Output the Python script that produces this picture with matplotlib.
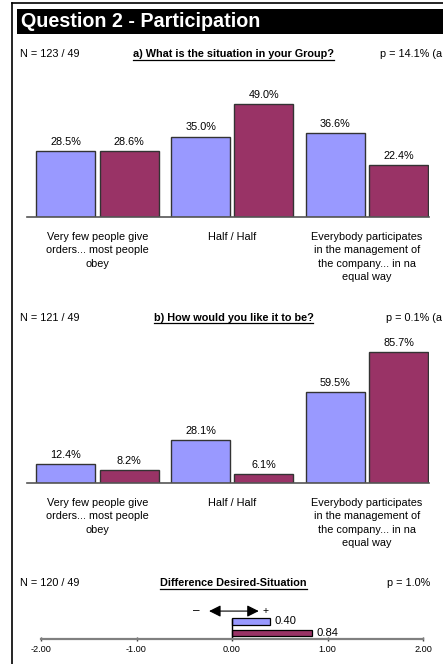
import matplotlib
matplotlib.use("Agg")
import matplotlib.pyplot as plt
from matplotlib.lines import Line2D
from matplotlib.patches import Rectangle

plt.rcParams['font.family'] = ['Liberation Sans', 'DejaVu Sans']

# ---- data ----
categories = ["Very few people give\norders... most people\nobey",
              "Half / Half",
              "Everybody participates\nin the management of\nthe company... in na\nequal way"]
situation_a = [28.5, 35.0, 36.6]
situation_b = [28.6, 49.0, 22.4]
desired_a = [12.4, 28.1, 59.5]
desired_b = [8.2, 6.1, 85.7]
diff_values = [0.40, 0.84]
diff_ticks = [-2.0, -1.0, 0.0, 1.0, 2.0]

title = "Question 2 - Participation"
sub_a = "a) What is the situation in your Group?"
sub_b = "b) How would you like it to be?"
sub_c = "Difference Desired-Situation"
n_texts = ["N = 123 / 49", "N = 121 / 49", "N = 120 / 49"]
p_texts = ["p = 14.1% (a", "p = 0.1% (a", "p = 1.0%"]

BLUE = "#9999FF"
PURPLE = "#993366"
EDGE = "#333333"

W, H = 443, 664
fig = plt.figure(figsize=(W / 100, H / 100), dpi=100)


def fx(px):
    return px / W


def fy(py):
    return 1 - py / H


# frame lines
fig.add_artist(Line2D([fx(12), fx(12)], [fy(3), fy(664)], color="black", lw=1.2))
fig.add_artist(Line2D([fx(12), fx(443)], [fy(3), fy(3)], color="black", lw=1.2))
# title bar
fig.add_artist(Rectangle((fx(17), fy(34)), fx(443) - fx(17), fy(9) - fy(34),
                         facecolor="black", edgecolor="none"))
fig.text(fx(21), fy(21.5), title, color="white", fontsize=14.2, fontweight="bold",
         va="center", ha="left")

underline_texts = []


def header(y, ntext, sub, ptext, px):
    fig.text(fx(20), fy(y), ntext, fontsize=7.8, va="center", ha="left")
    t = fig.text(fx(233.5), fy(y), sub, fontsize=7.8, fontweight="bold",
                 va="center", ha="center")
    underline_texts.append(t)
    fig.text(fx(px), fy(y), ptext, fontsize=7.8, va="center", ha="left")


header(54, n_texts[0], sub_a, p_texts[0], 380)
header(318, n_texts[1], sub_b, p_texts[1], 386)
header(583, n_texts[2], sub_c, p_texts[2], 387)

xl, xr = -0.522, 2.459
bw = 0.437
off = 0.235


def bar_panel(top_px, base_px, ymax, s1, s2):
    ax = fig.add_axes([fx(27), fy(base_px), fx(429) - fx(27), fy(top_px) - fy(base_px)])
    xs = list(range(len(categories)))
    b1 = ax.bar([x - off for x in xs], s1, bw, color=BLUE, edgecolor=EDGE, lw=1)
    b2 = ax.bar([x + off for x in xs], s2, bw, color=PURPLE, edgecolor=EDGE, lw=1)
    for bars, vals in ((b1, s1), (b2, s2)):
        for r, v in zip(bars, vals):
            ax.annotate(f"{v:.1f}%", (r.get_x() + r.get_width() / 2, v),
                        xytext=(0, 3), textcoords="offset points",
                        ha="center", va="bottom", fontsize=7.8)
    ax.set_xlim(xl, xr)
    ax.set_ylim(0, ymax)
    for s in ("top", "right", "left"):
        ax.spines[s].set_visible(False)
    ax.spines["bottom"].set_color("#555555")
    ax.spines["bottom"].set_linewidth(1.2)
    ax.set_yticks([])
    ax.set_xticks(xs)
    ax.set_xticklabels(categories, fontsize=7.8, linespacing=1.4, va="top")
    ax.tick_params(axis="x", length=0, pad=11)
    ax.patch.set_visible(False)
    return ax


bar_panel(79, 217, 60, situation_a, situation_b)
bar_panel(330, 483, 100, desired_a, desired_b)

# ---- difference panel ----
axc = fig.add_axes([fx(41), fy(639), fx(423) - fx(41), fy(615) - fy(639)])
ypos = [1, 0]
cols = [BLUE, PURPLE]
for yv, v, c in zip(ypos, diff_values, cols):
    axc.barh(yv, v, 0.54, color=c, edgecolor="black", lw=0.9)
    axc.annotate(f"{v:.2f}", (v, yv), xytext=(3, 0), textcoords="offset points",
                 ha="left", va="center", fontsize=8.1)
axc.set_xlim(diff_ticks[0], diff_ticks[-1])
axc.set_ylim(-0.5625, 1.58)
axc.spines["top"].set_visible(False)
axc.spines["right"].set_visible(False)
axc.spines["left"].set_position(("data", 0))
axc.spines["left"].set_bounds(-0.5625, 1.25)
axc.spines["left"].set_linewidth(1.0)
axc.spines["bottom"].set_color("#808080")
axc.spines["bottom"].set_linewidth(1.6)
axc.set_yticks([])
axc.set_xticks(diff_ticks)
axc.set_xticklabels([f"{t:.2f}" for t in diff_ticks], fontsize=6.6)
axc.tick_params(axis="x", length=3, width=1, color="#444444", pad=3, direction="inout")
axc.patch.set_visible(False)
axc.annotate("", xy=(-0.24, 1.93), xytext=(0.28, 1.93), xycoords="data",
             arrowprops=dict(arrowstyle="<|-|>,head_length=0.7,head_width=0.35",
                             color="black", lw=0.8,
                             mutation_scale=10, shrinkA=0, shrinkB=0),
             annotation_clip=False)
axc.text(-0.37, 1.93, "–", fontsize=8.5, ha="center", va="center", clip_on=False)
axc.text(0.355, 1.93, "+", fontsize=7.5, ha="center", va="center", clip_on=False)

# underline subtitles
fig.canvas.draw()
r = fig.canvas.get_renderer()
for t in underline_texts:
    bb = t.get_window_extent(r)
    yline = bb.y0 - 0.5
    fig.add_artist(Line2D([bb.x0 / W, bb.x1 / W], [yline / H, yline / H],
                          color="black", lw=0.9))

fig.savefig("out.png", dpi=100)
